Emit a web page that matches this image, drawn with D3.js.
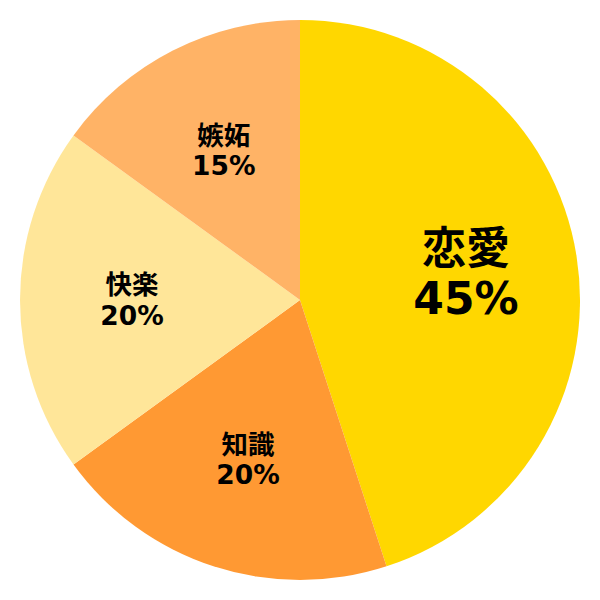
<!DOCTYPE html>
<html><head><meta charset="utf-8">
<script src="https://cdn.jsdelivr.net/npm/d3@7"></script>
<style>body{margin:0;background:#fff}svg{display:block}</style>
</head><body>
<svg id="c" width="600" height="600"></svg>
<script>
const categories = ["恋愛", "知識", "快楽", "嫉妬"];
const values = [45, 20, 20, 15];
const colors = ["#FFD700", "#FF9933", "#FFE699", "#FFB366"];
const labelSizes = [44, 26.5, 26.5, 26.5];

const data = categories.map((c, i) => ({name: c, value: values[i], color: colors[i], size: labelSizes[i]}));
const svg = d3.select("#c");
const g = svg.append("g").attr("transform", "translate(300,300)");
const R = 280;
const pie = d3.pie().sort(null).value(d => d.value);
const arc = d3.arc().innerRadius(0).outerRadius(R);
const labelArc = d3.arc().innerRadius(R * 0.6).outerRadius(R * 0.6);
const arcs = pie(data);

g.selectAll("path").data(arcs).join("path")
  .attr("d", arc).attr("fill", d => d.data.color);

const lg = g.selectAll("g.lab").data(arcs).join("g").attr("class", "lab")
  .attr("transform", d => { const [x, y] = labelArc.centroid(d); return `translate(${x},${y})`; });
const ff = "'DejaVu Sans', 'Noto Sans CJK JP', sans-serif";
lg.append("text").text(d => d.data.name)
  .attr("text-anchor", "middle").attr("dominant-baseline", "central")
  .attr("y", d => -d.data.size * 0.57)
  .attr("font-family", ff).attr("font-weight", "bold").attr("font-size", d => d.data.size)
  .attr("fill", "#000");
lg.append("text").text(d => d.data.value + "%")
  .attr("text-anchor", "middle").attr("dominant-baseline", "central")
  .attr("y", d => d.data.size * 0.57)
  .attr("font-family", ff).attr("font-weight", "bold").attr("font-size", d => d.data.size)
  .attr("fill", "#000");
</script>
</body></html>
